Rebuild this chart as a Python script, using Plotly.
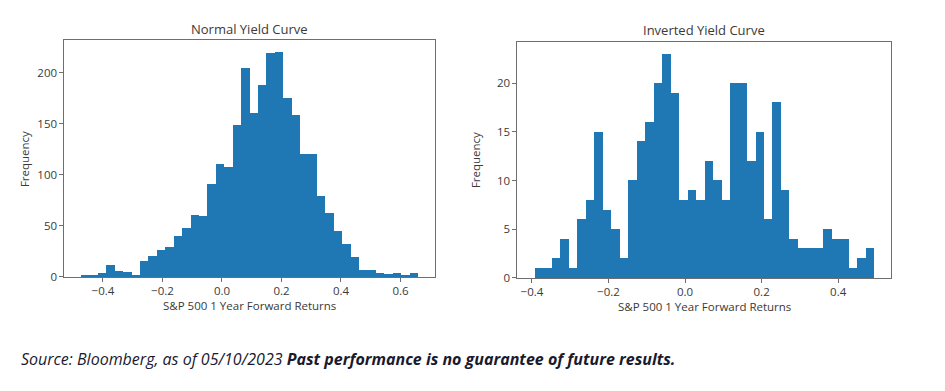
import numpy as np
import plotly.graph_objects as go

# ---- data ----
normal_counts = [2, 2, 4, 11, 6, 5, 2, 15, 20, 26, 29, 40, 48, 60, 59, 91, 110, 107, 148, 204,
                 160, 188, 219, 220, 175, 158, 120, 120, 79, 62, 45, 32, 19, 7, 7, 4, 3, 4, 2, 4]
normal_range = (-0.474, 0.659)

inverted_counts = [1, 1, 2, 4, 1, 6, 8, 15, 7, 5, 2, 10, 14, 16, 20, 23, 19, 8, 9, 8,
                   12, 10, 8, 20, 20, 12, 15, 6, 18, 9, 4, 3, 3, 3, 5, 4, 4, 1, 2, 3]
inverted_range = (-0.3925, 0.4945)

titles = ["Normal Yield Curve", "Inverted Yield Curve"]
x_label = "S&P 500 1 Year Forward Returns"
y_label = "Frequency"
left_yticks = [0, 50, 100, 150, 200]
right_yticks = [0, 5, 10, 15, 20]
left_xticks = [-0.4, -0.2, 0.0, 0.2, 0.4, 0.6]
right_xticks = [-0.4, -0.2, 0.0, 0.2, 0.4]

BAR = "#1f77b4"
TXT = "#3a3a3a"
AX = "#6e6e6e"
FONT = "Open Sans"


def bins(counts, rng):
    edges = np.linspace(rng[0], rng[1], len(counts) + 1)
    return (edges[:-1] + edges[1:]) / 2, edges[1] - edges[0]


fig = go.Figure()
for i, (counts, rng) in enumerate([(normal_counts, normal_range), (inverted_counts, inverted_range)]):
    c, w = bins(counts, rng)
    fig.add_trace(go.Bar(x=c, y=counts, width=w, marker=dict(color=BAR, line=dict(width=0)),
                         xaxis="x" if i == 0 else "x2", yaxis="y" if i == 0 else "y2",
                         showlegend=False, hoverinfo="skip"))

W, H = 945, 391
def dom(a, b, total, flip=False):
    if flip:
        return [1 - b / total, 1 - a / total]
    return [a / total, b / total]

axcommon = dict(showgrid=False, zeroline=False, showline=True, linecolor=AX, linewidth=1.2,
                mirror=True, ticks="outside", ticklen=3.5, tickcolor=AX, tickwidth=1,
                tickfont=dict(family=FONT, size=11.5, color=TXT))

fig.update_layout(
    width=W, height=H, margin=dict(l=0, r=0, t=0, b=0),
    paper_bgcolor="white", plot_bgcolor="white", bargap=0,
    xaxis=dict(domain=dom(64, 435, W), range=[-0.531, 0.716], tickvals=left_xticks,
               tickformat=".1f", anchor="y", **axcommon),
    yaxis=dict(domain=dom(41, 282, H, True), range=[0, 231.6], tickvals=left_yticks,
               anchor="x", **axcommon),
    xaxis2=dict(domain=dom(517, 891, W), range=[-0.439, 0.538], tickvals=right_xticks,
                tickformat=".1f", anchor="y2", **axcommon),
    yaxis2=dict(domain=dom(43, 283, H, True), range=[0, 24.2], tickvals=right_yticks,
                anchor="x2", **axcommon),
)

ann = []
for cx, ty, title in [(249.5, 30, titles[0]), (704, 31, titles[1])]:
    ann.append(dict(x=cx / W, y=1 - ty / H, xref="paper", yref="paper", text=title,
                    showarrow=False, xanchor="center", yanchor="middle",
                    font=dict(family=FONT, size=13, color=TXT)))
for cx, ty in [(249.5, 311), (704, 312)]:
    ann.append(dict(x=cx / W, y=1 - ty / H, xref="paper", yref="paper", text=x_label,
                    showarrow=False, xanchor="center", yanchor="middle",
                    font=dict(family=FONT, size=11.5, color=TXT)))
for cx, cy in [(24, 162), (475, 163)]:
    ann.append(dict(x=cx / W, y=1 - cy / H, xref="paper", yref="paper", text=y_label,
                    showarrow=False, xanchor="center", yanchor="middle", textangle=-90,
                    font=dict(family=FONT, size=11.5, color=TXT)))
ann.append(dict(x=19 / W, y=1 - 366 / H, xref="paper", yref="paper",
                text="<i>Source: Bloomberg, as of 05/10/2023 </i><b><i>Past performance is no guarantee of future results.</i></b>",
                showarrow=False, xanchor="left", yanchor="middle",
                font=dict(family="Open Sans", size=16, color="#1a1a2e")))
fig.update_layout(annotations=ann)

fig.write_html("out.html", config={"displayModeBar": False},
               post_script="document.body.style.margin='0';")
